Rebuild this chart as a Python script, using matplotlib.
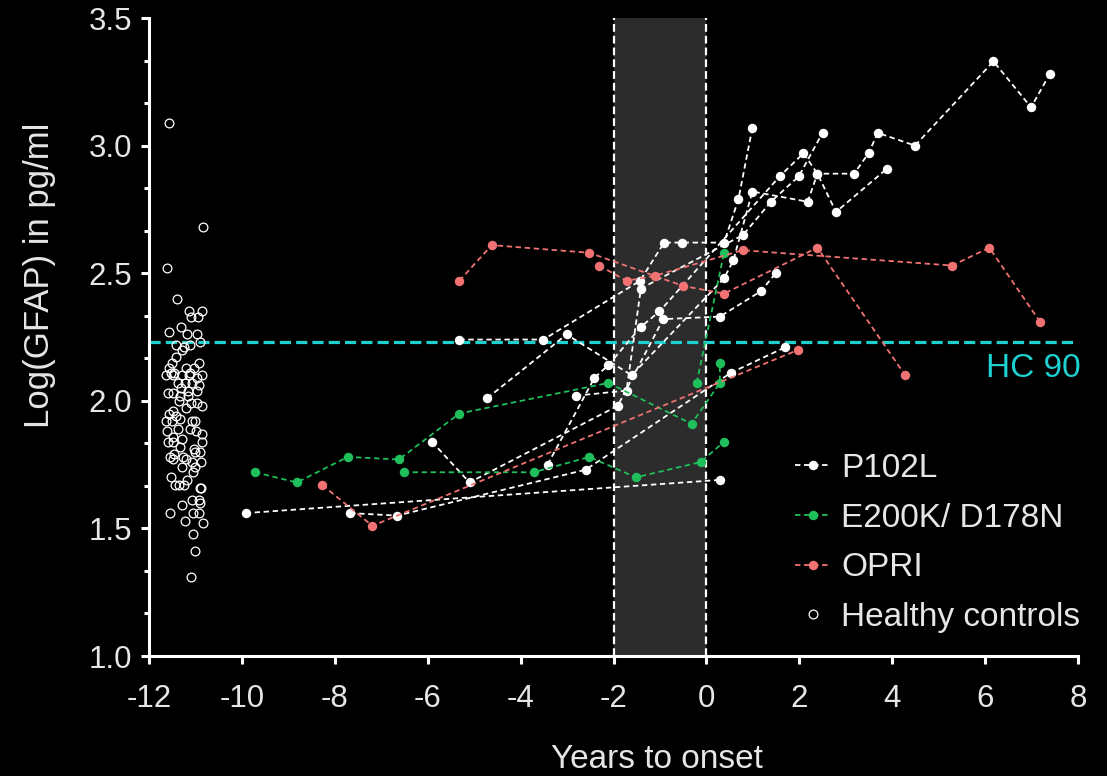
import matplotlib
matplotlib.use('Agg')
import matplotlib.pyplot as plt
from matplotlib.lines import Line2D
from matplotlib.ticker import MultipleLocator, FormatStrFormatter

plt.rcParams['font.family'] = ['Liberation Sans', 'DejaVu Sans']

# ---------------- data ----------------
# P102L trajectories (years to onset, log GFAP)
p102l_x = [
    [-9.92, 0.29],
    [-7.67, -6.66, -2.60, 0.53, 1.70],
    [-5.91, -5.10, -1.91, -0.93, 0.29, 1.18, 1.49],
    [-3.42, -2.41, -2.11, -1.41, -1.01, 1.58, 2.09, 2.39, 2.79, 3.89],
    [-5.32, -3.51, -1.43, -0.91, -0.53, 0.38, 0.69, 0.99],
    [-4.72, -3.01, -1.61, 0.38, 0.58, 0.99, 2.18, 2.39, 3.18, 3.49, 3.69, 4.49, 6.18, 6.99, 7.39],
    [-2.81, -1.72, -1.41, 0.79, 1.39, 1.99, 2.50],
]
p102l_y = [
    [1.56, 1.69],
    [1.56, 1.55, 1.73, 2.11, 2.21],
    [1.84, 1.68, 1.98, 2.32, 2.33, 2.43, 2.50],
    [1.75, 2.09, 2.14, 2.29, 2.35, 2.88, 2.97, 2.89, 2.74, 2.91],
    [2.24, 2.24, 2.47, 2.62, 2.62, 2.62, 2.79, 3.07],
    [2.01, 2.26, 2.10, 2.48, 2.55, 2.82, 2.78, 2.89, 2.89, 2.97, 3.05, 3.00, 3.33, 3.15, 3.28],
    [2.02, 2.04, 2.44, 2.65, 2.78, 2.88, 3.05],
]

# E200K / D178N trajectories
e200k_x = [
    [-9.72, -8.82, -7.72, -6.62, -5.32, -2.11, -0.32, 0.29, 0.29],
    [-6.52, -3.72, -2.52, -1.52, -0.12, 0.38],
    [-0.21, 0.38],
]
e200k_y = [
    [1.72, 1.68, 1.78, 1.77, 1.95, 2.07, 1.91, 2.07, 2.15],
    [1.72, 1.72, 1.78, 1.70, 1.76, 1.84],
    [2.07, 2.58],
]

# OPRI trajectories
opri_x = [
    [-5.32, -4.62, -2.52, -0.50, 0.38, 2.39, 4.28],
    [-2.31, -1.72, -1.11, 0.78, 5.29, 6.09, 7.18],
    [-8.27, -7.19, 1.98],
]
opri_y = [
    [2.47, 2.61, 2.58, 2.45, 2.42, 2.60, 2.10],
    [2.53, 2.47, 2.49, 2.59, 2.53, 2.60, 2.31],
    [1.67, 1.51, 2.20],
]

# Healthy controls (jittered x position, log GFAP)
hc_x = [-11.58, -10.83, -11.61, -11.40, -11.13, -10.94, -10.86, -11.10, -11.57, -11.31,
        -11.19, -10.96, -10.90, -11.12, -11.41, -11.30, -11.24, -11.42, -11.50, -10.92,
        -11.58, -11.20, -11.03, -11.53, -11.46, -11.12, -10.86, -11.63, -11.48, -11.30,
        -11.14, -10.97, -11.37, -11.23, -11.08, -10.92, -11.31, -11.15, -10.97, -11.59,
        -11.48, -11.33, -11.15, -11.35, -11.10, -11.20, -10.97, -10.86, -11.58, -11.48,
        -11.41, -11.33, -11.63, -11.51, -11.08, -11.01, -11.61, -11.38, -11.12, -10.99,
        -10.86, -11.49, -11.60, -11.48, -11.30, -10.85, -11.33, -11.03, -11.01, -10.90,
        -11.46, -11.55, -11.26, -11.20, -11.08, -10.89, -11.48, -11.28, -11.01, -11.06,
        -11.53, -11.19, -11.44, -11.35, -11.24, -10.90, -10.88, -11.08, -10.92, -10.90,
        -11.30, -11.55, -11.05, -10.92, -11.23, -10.83, -11.06, -11.00, -11.10]
hc_y = [3.09, 2.68, 2.52, 2.40, 2.35, 2.33, 2.35, 2.33, 2.27, 2.29,
        2.26, 2.26, 2.23, 2.22, 2.22, 2.20, 2.21, 2.17, 2.15, 2.15,
        2.13, 2.13, 2.13, 2.11, 2.11, 2.11, 2.10, 2.10, 2.10, 2.10,
        2.10, 2.09, 2.07, 2.07, 2.07, 2.06, 2.05, 2.04, 2.04, 2.03,
        2.03, 2.02, 2.02, 2.00, 1.99, 1.97, 1.99, 1.98, 1.95, 1.96,
        1.94, 1.93, 1.92, 1.92, 1.92, 1.92, 1.88, 1.89, 1.89, 1.88,
        1.87, 1.86, 1.84, 1.84, 1.85, 1.84, 1.82, 1.81, 1.80, 1.80,
        1.79, 1.78, 1.78, 1.77, 1.76, 1.76, 1.77, 1.74, 1.74, 1.72,
        1.70, 1.69, 1.67, 1.67, 1.67, 1.66, 1.66, 1.61, 1.61, 1.60,
        1.59, 1.56, 1.56, 1.56, 1.53, 1.52, 1.48, 1.41, 1.31]

hc90 = 2.23
window = (-2, 0)

x_ticks = [-12, -10, -8, -6, -4, -2, 0, 2, 4, 6, 8]
y_ticks = [1.0, 1.5, 2.0, 2.5, 3.0, 3.5]

labels = ['P102L', 'E200K/ D178N', 'OPRI', 'Healthy controls']

# ---------------- style ----------------
WHITE = '#ffffff'
GREEN = '#1fbf5c'
RED = '#f07272'
CYAN = '#1ed0d0'
TXT = '#e6e6e6'
SHADE = '#2c2c2c'

fig = plt.figure(figsize=(11.07, 7.76), dpi=100, facecolor='black')
ax = fig.add_axes([149/1107, 1-656/776, (1078-149)/1107, (656-18)/776])
ax.set_facecolor('black')

ax.axvspan(window[0], window[1], color=SHADE, zorder=0, lw=0)
for xv in window:
    ax.axvline(xv, color=WHITE, lw=1.6, ls=(0, (3.5, 1.8)), zorder=1)

ax.axhline(hc90, color=CYAN, lw=2.3, ls=(0, (3.5, 1.6)), zorder=2)
ax.text(7.03, 2.125, 'HC 90', color=CYAN, fontsize=24, ha='center', va='center')

line_kw = dict(lw=1.3, ls=(0, (3, 2)), marker='o', markersize=6.8, markeredgewidth=0, zorder=3)
for xs, ys in zip(p102l_x, p102l_y):
    ax.plot(xs, ys, color=WHITE, markerfacecolor=WHITE, **line_kw)
for xs, ys in zip(e200k_x, e200k_y):
    ax.plot(xs, ys, color=GREEN, markerfacecolor=GREEN, **line_kw)
for xs, ys in zip(opri_x, opri_y):
    ax.plot(xs, ys, color=RED, markerfacecolor=RED, **line_kw)

ax.plot(hc_x, hc_y, ls='none', marker='o', markersize=6.3, markerfacecolor='none',
        markeredgecolor=WHITE, markeredgewidth=0.9, zorder=3)

ax.set_xlim(-12, 8)
ax.set_ylim(1.0, 3.5)
ax.set_xticks(x_ticks)
ax.set_xticklabels([str(v) for v in x_ticks])
ax.set_yticks(y_ticks)
ax.yaxis.set_major_formatter(FormatStrFormatter('%.1f'))
ax.yaxis.set_minor_locator(MultipleLocator(0.5/3))

for side in ['top', 'right']:
    ax.spines[side].set_visible(False)
for side in ['left', 'bottom']:
    ax.spines[side].set_color(WHITE)
    ax.spines[side].set_linewidth(2.2)

ax.tick_params(axis='both', which='major', colors=WHITE, labelcolor=TXT,
               length=6, width=2.2, labelsize=22.5, direction='out')
ax.tick_params(axis='x', which='major', pad=14)
ax.tick_params(axis='y', which='major', pad=6)
ax.tick_params(axis='y', which='minor', colors=WHITE, length=3.5, width=2.2, direction='out')

fig.text(657/1107, 1-760/776, 'Years to onset', color=TXT, fontsize=24,
         ha='center', va='center')
fig.text(40/1107, 1-275/776, 'Log(GFAP) in pg/ml', color=TXT, fontsize=25,
         ha='center', va='center', rotation=90)

handles = [
    Line2D([], [], color=WHITE, lw=1.3, ls=(0, (3, 2)), marker='o', markersize=6.8,
           markerfacecolor=WHITE, markeredgewidth=0),
    Line2D([], [], color=GREEN, lw=1.3, ls=(0, (3, 2)), marker='o', markersize=6.8,
           markerfacecolor=GREEN, markeredgewidth=0),
    Line2D([], [], color=RED, lw=1.3, ls=(0, (3, 2)), marker='o', markersize=6.8,
           markerfacecolor=RED, markeredgewidth=0),
    Line2D([], [], ls='none', marker='o', markersize=6.3, markerfacecolor='none',
           markeredgecolor=WHITE, markeredgewidth=0.9),
]
leg = fig.legend(handles, labels, loc='upper left',
                 bbox_to_anchor=(795/1107, 1-453/776), frameon=False,
                 fontsize=24, handlelength=1.05, handletextpad=0.33,
                 labelspacing=0.56, borderpad=0, borderaxespad=0)
for t in leg.get_texts():
    t.set_color(TXT)

fig.savefig('out.png', dpi=100, facecolor='black')
